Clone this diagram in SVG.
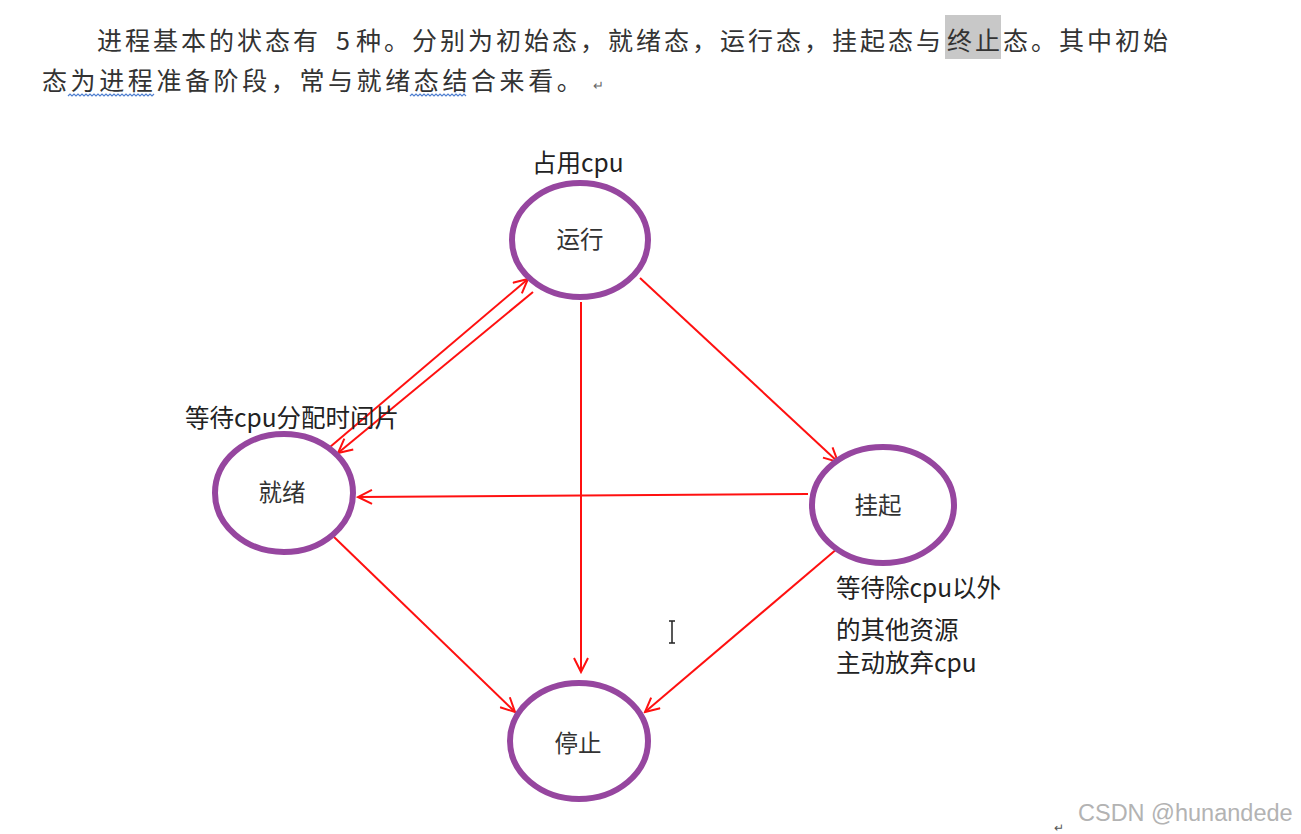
<svg xmlns="http://www.w3.org/2000/svg" width="1301" height="834" viewBox="0 0 1301 834">
<style>
.hdr{font-family:"Noto Sans CJK SC","Liberation Serif",sans-serif;font-size:25px;fill:#333;letter-spacing:3px}
.lbl{font-family:"Noto Sans CJK SC","Liberation Sans",sans-serif;font-size:24.5px;fill:#222}
.node ellipse{fill:#fff;stroke:#96469f;stroke-width:6}
.node text{font-family:"Noto Sans CJK SC","Liberation Sans",sans-serif;font-size:23.5px;fill:#333;text-anchor:middle}
.conn line{stroke:#ff1010;stroke-width:2;marker-end:url(#ah)}
.wave{fill:none;stroke:#4f7fd0;stroke-width:1.2}
</style>
<defs>
<marker id="ah" markerWidth="18" markerHeight="16" refX="16" refY="8" orient="auto" markerUnits="userSpaceOnUse">
<path d="M2,1 L16,8 L2,15" fill="none" stroke="#ff1010" stroke-width="2"/>
</marker>
</defs>
<rect width="1301" height="834" fill="#fff"/>
<g id="header">
<rect x="945" y="15" width="56" height="44" fill="#c8c8c8"/>
<text class="hdr" x="97" y="50">进程基本的状态有</text>
<text class="hdr" x="336" y="50">5</text>
<text class="hdr" x="356" y="50">种。分别为初始态，就绪态，运行态，挂起态与</text>
<text class="hdr" x="947" y="50">终止</text>
<text class="hdr" x="1003" y="50">态。其中初始</text>
<text class="hdr" x="42" y="90" style="letter-spacing:3.6px">态为进程准备阶段，常与就绪态结合来看。</text>
<text x="593" y="90" font-family="Liberation Sans,sans-serif" font-size="13" fill="#666">↵</text>
<path class="wave" d="M68,96 l2,-2 l2,2 l2,-2 l2,2 l2,-2 l2,2 l2,-2 l2,2 l2,-2 l2,2 l2,-2 l2,2 l2,-2 l2,2 l2,-2 l2,2 l2,-2 l2,2 l2,-2 l2,2 l2,-2 l2,2 l2,-2 l2,2 l2,-2 l2,2 l2,-2 l2,2 l2,-2 l2,2 l2,-2 l2,2 l2,-2 l2,2 l2,-2 l2,2 l2,-2 l2,2 l2,-2 l2,2 l2,-2 l2,2 l2,-2"/>
<path class="wave" d="M410,96 l2,-2 l2,2 l2,-2 l2,2 l2,-2 l2,2 l2,-2 l2,2 l2,-2 l2,2 l2,-2 l2,2 l2,-2 l2,2 l2,-2 l2,2 l2,-2 l2,2 l2,-2 l2,2 l2,-2 l2,2 l2,-2 l2,2 l2,-2 l2,2 l2,-2 l2,2"/>
</g>
<g id="connectors" class="conn">
<line x1="640" y1="278" x2="838" y2="462"/>
<line x1="581" y1="302" x2="581" y2="672"/>
<line x1="808" y1="494" x2="358" y2="497"/>
<line x1="334" y1="537" x2="515" y2="712"/>
<line x1="838" y1="548" x2="645" y2="712"/>
<line x1="330" y1="447" x2="528" y2="279"/>
<line x1="533" y1="292" x2="338" y2="453"/>
</g>
<g id="node-running" class="node">
<ellipse cx="580" cy="240" rx="68" ry="57"/>
<text x="580" y="248">运行</text>
</g>
<g id="node-ready" class="node">
<ellipse cx="284" cy="493" rx="69" ry="59"/>
<text x="282" y="501">就绪</text>
</g>
<g id="node-suspended" class="node">
<ellipse cx="883" cy="505" rx="71" ry="58"/>
<text x="878" y="514">挂起</text>
</g>
<g id="node-stopped" class="node">
<ellipse cx="579" cy="741" rx="69" ry="58"/>
<text x="578" y="752">停止</text>
</g>
<g id="labels">
<text class="lbl" x="532" y="172">占用cpu</text>
<text class="lbl" x="185" y="427">等待cpu分配时间片</text>
<text class="lbl" x="836" y="597">等待除cpu以外</text>
<text class="lbl" x="836" y="639">的其他资源</text>
<text class="lbl" x="836" y="672">主动放弃cpu</text>
</g>
<g id="cursor" fill="none" stroke="#222" stroke-width="1.5">
<path d="M669,621 h6 M672,621 v22 M669,643 h6"/>
</g>
<text x="1078" y="821" font-family="Liberation Sans,sans-serif" font-size="23.5" fill="#b3b3b3">CSDN @hunandede</text>
<text x="1054" y="832" font-family="Liberation Sans,sans-serif" font-size="12" fill="#555">↵</text>
</svg>
